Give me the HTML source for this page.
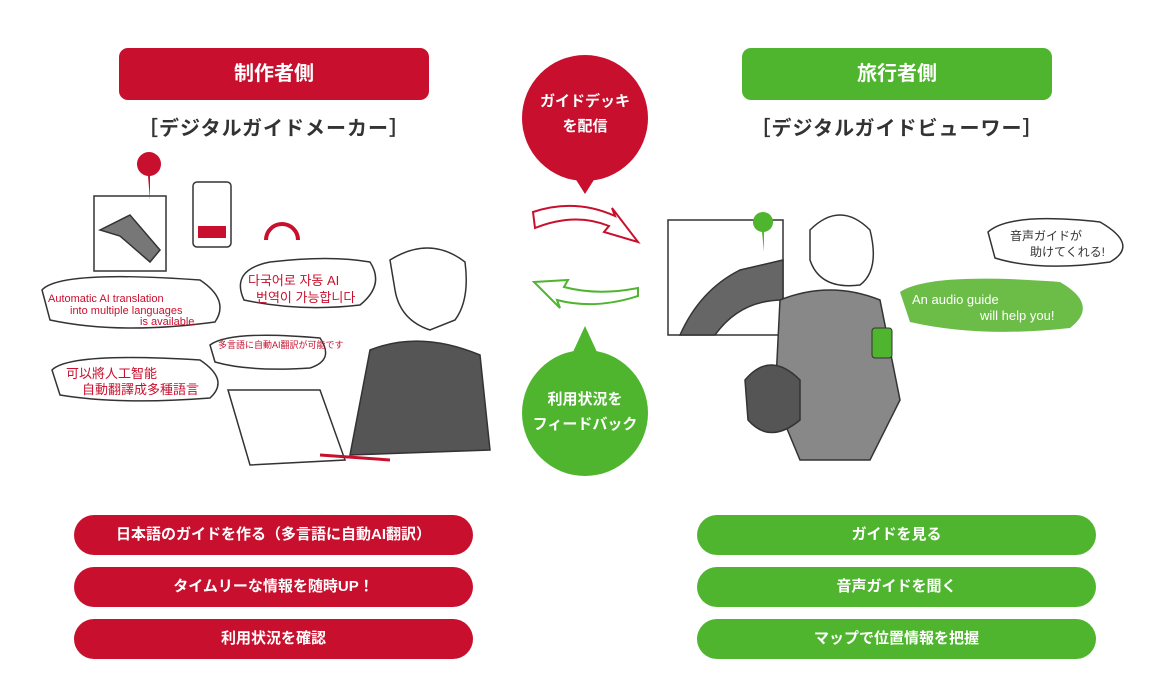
<!DOCTYPE html>
<html><head><meta charset="utf-8"><style>
body{margin:0;width:1151px;height:684px;background:#fff;position:relative;overflow:hidden;font-family:"Liberation Sans","Noto Sans CJK JP",sans-serif;}
.abs{position:absolute}
.hd{position:absolute;top:48px;width:310px;height:52px;border-radius:9px;color:#fff;font-weight:bold;font-size:20px;text-align:center;line-height:52px}
.sub{position:absolute;top:112px;width:310px;text-align:center;font-size:20px;color:#333;font-weight:bold;letter-spacing:1px}
.pill{position:absolute;width:399px;height:40px;border-radius:20px;color:#fff;font-weight:bold;font-size:15px;text-align:center;line-height:40px}
.r{background:#c8102e}.g{background:#4fb52f}
</style></head><body>
<div class="hd r" style="left:119px">制作者側</div>
<div class="hd g" style="left:742px">旅行者側</div>
<div class="sub" style="left:119px">［デジタルガイドメーカー］</div>
<div class="sub" style="left:742px">［デジタルガイドビューワー］</div>

<svg class="abs" style="left:0;top:0" width="1151" height="684">
<circle cx="585" cy="118" r="63" fill="#c8102e"/>
<polygon points="573,175 597,175 585,194" fill="#c8102e"/>
<circle cx="585" cy="413" r="63" fill="#4fb52f"/>
<polygon points="573,352 597,352 585,326" fill="#4fb52f"/>
<text x="585" y="106" fill="#fff" font-size="15" font-weight="bold" text-anchor="middle">ガイドデッキ</text>
<text x="585" y="131" fill="#fff" font-size="15" font-weight="bold" text-anchor="middle">を配信</text>
<text x="585" y="404" fill="#fff" font-size="15" font-weight="bold" text-anchor="middle">利用状況を</text>
<text x="585" y="429" fill="#fff" font-size="15" font-weight="bold" text-anchor="middle">フィードバック</text>
<path d="M533,212 Q575,198 615,216 L612,208 L638,242 L604,232 L609,226 Q575,212 535,228 Z" fill="none" stroke="#c8102e" stroke-width="2"/>
<path d="M638,296 Q595,310 557,300 L560,308 L534,282 L568,280 L564,287 Q598,296 638,288 Z" fill="none" stroke="#4fb52f" stroke-width="2"/>
<!-- left illustration -->
<g fill="none" stroke="#333" stroke-width="1.5">
<rect x="94" y="196" width="72" height="75" fill="#fff"/>
<path d="M100,230 L130,215 L160,250 L150,262 L120,236 Z" fill="#777"/>
<rect x="193" y="182" width="38" height="65" rx="4"/>
<path d="M244,300 Q230,270 270,262 Q330,255 370,262 Q385,285 360,305 Q300,312 244,300Z" fill="#fff"/>
<path d="M42,290 Q60,270 200,280 Q230,300 215,322 Q120,335 50,320 Z" fill="#fff"/>
<path d="M52,370 Q70,352 200,360 Q230,380 210,398 Q120,405 60,395 Z" fill="#fff"/>
<path d="M210,345 Q230,330 320,338 Q335,360 310,368 Q250,372 215,362Z" fill="#fff"/>
<path d="M228,390 L320,390 L345,460 L250,465 Z" fill="#fff"/>
<path d="M390,260 Q430,235 465,262 Q470,300 455,320 L430,330 Q400,320 395,290Z"/>
<path d="M370,350 Q420,330 480,355 L490,450 L350,455 Z" fill="#555"/>
<path d="M320,455 L390,460" stroke="#c8102e" stroke-width="3"/>
</g>
<path d="M148,176 a12,12 0 1 1 2,0 L150,200 Z" fill="#c8102e"/>
<path d="M266,240 a16,16 0 0 1 32,0" fill="none" stroke="#c8102e" stroke-width="4"/>
<rect x="198" y="226" width="28" height="12" fill="#c8102e"/>
<text x="48" y="302" fill="#c8102e" font-size="11">Automatic AI translation</text>
<text x="70" y="314" fill="#c8102e" font-size="11">into multiple languages</text>
<text x="140" y="325" fill="#c8102e" font-size="11">is available.</text>
<text x="248" y="285" fill="#c8102e" font-size="13">다국어로 자동 AI</text>
<text x="256" y="302" fill="#c8102e" font-size="13">번역이 가능합니다</text>
<text x="66" y="378" fill="#c8102e" font-size="13">可以將人工智能</text>
<text x="82" y="394" fill="#c8102e" font-size="13">自動翻譯成多種語言</text>
<text x="218" y="348" fill="#c8102e" font-size="9">多言語に自動AI翻訳が可能です</text>
<!-- right illustration -->
<g fill="none" stroke="#333" stroke-width="1.5">
<rect x="668" y="220" width="115" height="115" fill="#fff"/>
<path d="M680,335 Q700,290 740,270 L783,260 L783,300 Q740,300 715,335Z" fill="#666"/>
<path d="M810,230 Q840,200 870,230 Q880,270 860,285 Q820,290 810,260Z"/>
<path d="M780,300 Q830,280 880,300 L900,400 L870,460 L800,460 L775,400 Z" fill="#888"/>
<path d="M745,380 Q770,350 800,380 L800,420 Q770,445 748,420 Z" fill="#555"/>
<path d="M988,232 Q1010,212 1100,222 Q1140,245 1110,262 Q1040,272 995,258Z" fill="#fff"/>
</g>
<path d="M900,292 Q930,272 1060,282 Q1100,305 1070,328 Q980,338 910,322 Z" fill="#6cbd48"/>
<path d="M762,232 a10,10 0 1 1 2,0 L764,252 Z" fill="#4fb52f"/>
<rect x="872" y="328" width="20" height="30" rx="3" fill="#4fb52f" stroke="#333"/>
<text x="912" y="304" fill="#fff" font-size="13">An audio guide</text>
<text x="980" y="320" fill="#fff" font-size="13">will help you!</text>
<text x="1010" y="240" fill="#333" font-size="12">音声ガイドが</text>
<text x="1030" y="256" fill="#333" font-size="12">助けてくれる!</text>
</svg>

<div class="pill r" style="left:74px;top:515px">日本語のガイドを作る（多言語に自動AI翻訳）</div>
<div class="pill r" style="left:74px;top:567px">タイムリーな情報を随時UP！</div>
<div class="pill r" style="left:74px;top:619px">利用状況を確認</div>
<div class="pill g" style="left:697px;top:515px">ガイドを見る</div>
<div class="pill g" style="left:697px;top:567px">音声ガイドを聞く</div>
<div class="pill g" style="left:697px;top:619px">マップで位置情報を把握</div>
</body></html>
